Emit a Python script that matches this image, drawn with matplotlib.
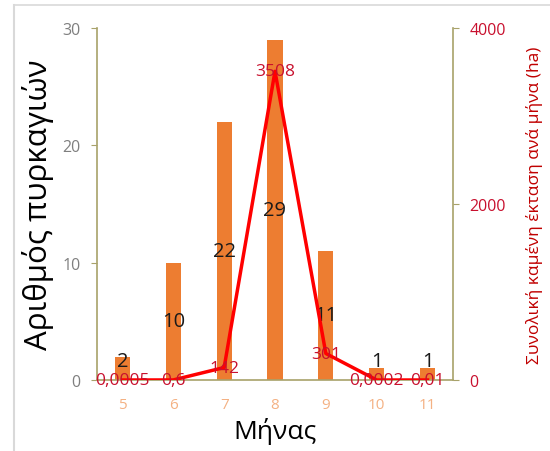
import matplotlib
matplotlib.use("Agg")
import matplotlib.pyplot as plt
from matplotlib.lines import Line2D

plt.rcParams['font.family'] = ['Open Sans', 'DejaVu Sans']

months = ['5', '6', '7', '8', '9', '10', '11']
fire_counts = [2, 10, 22, 29, 11, 1, 1]
burned_area = [0.0005, 0.6, 142, 3508, 301, 0.0002, 0.01]
area_labels = ['0,0005', '0,6', '142', '3508', '301', '0,0002', '0,01']

W, H = 550, 452
fig = plt.figure(figsize=(W / 100, H / 100), dpi=100)
fig.patch.set_facecolor('white')

# screenshot frame
fig.add_artist(Line2D([14 / W, 14 / W], [0, 1 - 6 / H], color='#d9d9d9', lw=1.5, transform=fig.transFigure))
fig.add_artist(Line2D([14 / W, 1], [1 - 6 / H, 1 - 6 / H], color='#d9d9d9', lw=1.2, transform=fig.transFigure))

left, right, top, bottom = 97, 453, 29, 381
ax = fig.add_axes([left / W, 1 - bottom / H, (right - left) / W, (bottom - top) / H])
ax2 = ax.twinx()

x = list(range(len(months)))
spine_col = '#a8a26a'
red_text = '#C8102E'

ax.bar(x, fire_counts, width=0.3, color='#ED7D31', zorder=2)
ax.set_xlim(-0.5, len(months) - 0.5)
ax.set_ylim(0, 30)
ax.set_yticks([0, 10, 20, 30])
ax.set_xticks(x)
ax.set_xticklabels(months)
ax.tick_params(axis='x', length=0, labelsize=11, colors='#F4B183', pad=12)
ax.tick_params(axis='y', length=4, labelsize=11.5, colors=spine_col, labelcolor='#7f7f7f', pad=8)
for s in ['top', 'right']:
    ax.spines[s].set_visible(False)
for s in ['left', 'bottom']:
    ax.spines[s].set_color(spine_col)
    ax.spines[s].set_linewidth(1.2)

for xi, v in zip(x, fire_counts):
    ax.text(xi, max(v / 2, 1.6), str(v), ha='center', va='center', fontsize=14.5, color='#1a1a1a', zorder=5)

ax.set_ylabel('Αριθμός πυρκαγιών', fontsize=22.5, color='black', labelpad=6)
ax.set_xlabel('Μήνας', fontsize=19, color='black', labelpad=4)

ax2.plot(x, burned_area, color='#FF0000', lw=2.5, zorder=4)
ax2.set_ylim(0, 4000)
ax2.set_yticks([0, 2000, 4000])
ax2.tick_params(axis='y', length=4, labelsize=11.5, colors=spine_col, labelcolor=red_text, pad=8)
for s in ['top', 'left', 'bottom']:
    ax2.spines[s].set_visible(False)
ax2.spines['right'].set_color(spine_col)
ax2.spines['right'].set_linewidth(1.2)
for xi, v, lab in zip(x, burned_area, area_labels):
    ax2.text(xi, v, lab, ha='center', va='center', fontsize=12.5, color=red_text, zorder=6)
ax2.set_ylabel('Συνολική καμένη έκταση ανά μήνα (ha)', fontsize=12.5, color='#C00000', labelpad=14)

fig.savefig('out.png', dpi=100)
